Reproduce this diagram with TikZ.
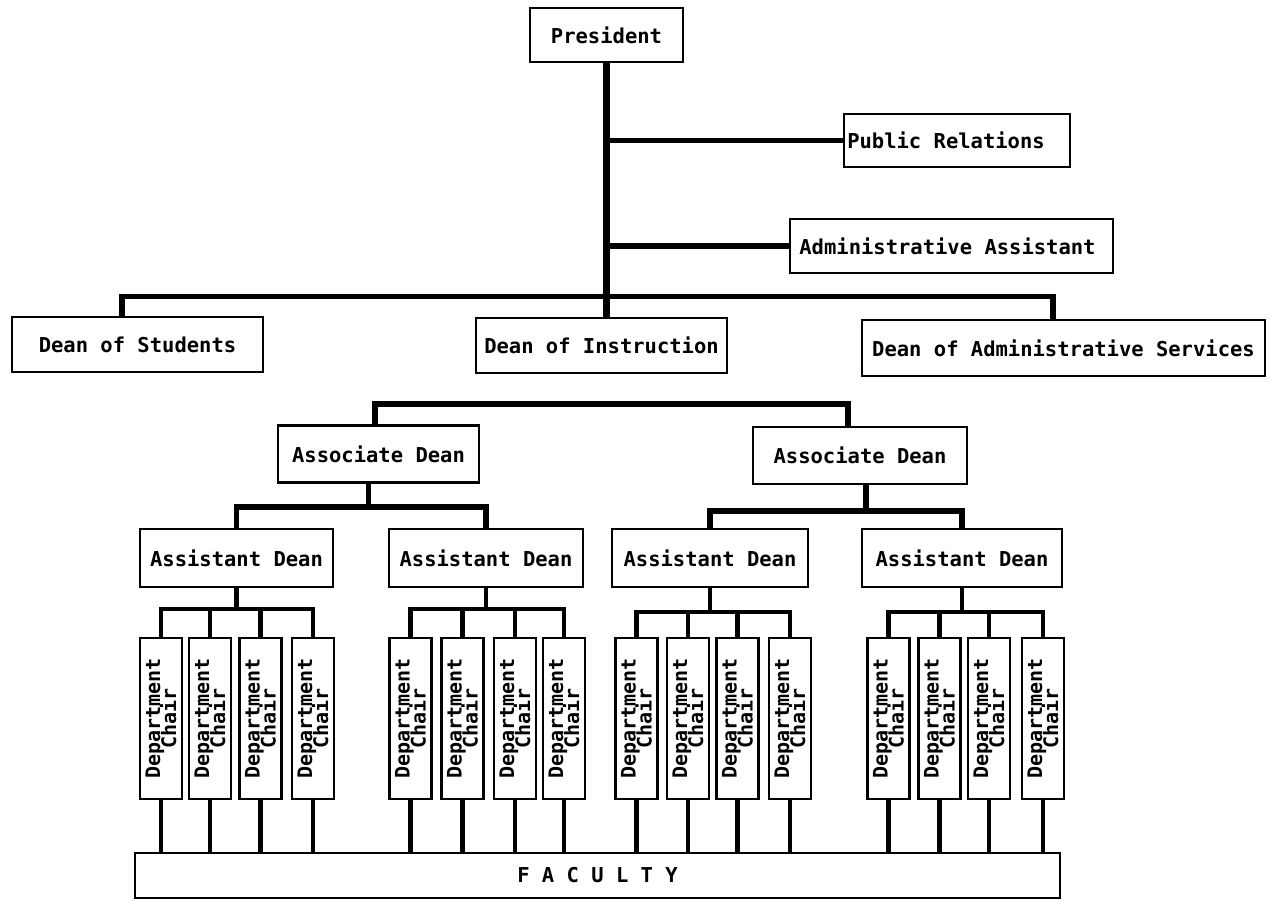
\documentclass[tikz,border=0pt]{standalone}
\usepackage{fontspec}
\newfontfamily\tw{DejaVu Sans Mono}
\newcommand\boxfont{\tw\bfseries\fontsize{20.5}{24}\selectfont}
\newcommand\chairfont{\tw\bfseries\fontsize{20}{16}\selectfont\lineskiplimit=-100pt\relax}
\begin{document}
\begin{tikzpicture}[x=1pt,y=-1pt,
  box/.style={draw, line width=2.5pt, rectangle, inner sep=0pt, font=\boxfont, align=center},
  chair/.style={box, rotate=90, minimum width=161pt, minimum height=42pt, font=\chairfont},
  link/.style={line width=5.5pt},
  clink/.style={line width=4.5pt}]
\useasboundingbox[fill=white] (0,0) rectangle (1271,901);
% top level
\node[box, minimum width=153pt, minimum height=54pt] (pres) at (606.5,35) {President};
\node[box, minimum width=226pt, minimum height=53pt] (pr) at (957,140.5) {Public Relations\hspace{22pt}};
\node[box, minimum width=323pt, minimum height=54pt] (aa) at (951.5,246) {Administrative Assistant\hspace{8pt}};
% deans
\node[box, minimum width=251pt, minimum height=55pt] (ds) at (137.5,344.5) {Dean of Students};
\node[box, minimum width=251pt, minimum height=55pt] (di) at (601.5,345.5) {Dean of Instruction};
\node[box, minimum width=403pt, minimum height=56pt] (das) at (1063.5,348) {Dean of Administrative Services};
% associate deans
\node[box, minimum width=201pt, minimum height=57pt] (as1) at (378.5,454) {Associate Dean};
\node[box, minimum width=214pt, minimum height=57pt] (as2) at (860,455.5) {Associate Dean};
% assistant deans
\node[box, minimum width=193pt, minimum height=58pt] (ad1) at (236.5,558) {Assistant Dean};
\node[box, minimum width=194pt, minimum height=58pt] (ad2) at (486,558) {Assistant Dean};
\node[box, minimum width=196pt, minimum height=58pt] (ad3) at (710,558) {Assistant Dean};
\node[box, minimum width=200pt, minimum height=58pt] (ad4) at (962,558) {Assistant Dean};
% department chairs
\foreach \x [count=\i] in {161,210,260.5,313,410.5,462.5,515,564,636.5,688,737.5,790,888.5,939.5,989,1043}
  \node[chair] (c\i) at (\x,718.5) {Department\\Chair};
% faculty
\node[box, minimum width=925pt, minimum height=45pt] (fac) at (597.5,875.5) {F A C U L T Y};
% connectors
\draw[link, line width=6.5pt] (pres.south) -- (pres.south |- di.north);
\draw[link] ([xshift=-15.5pt]ds.north) -- ++(0,-19.5) -| ([xshift=-10.5pt]das.north);
\draw[link] (pres.south |- pr.west) -- (pr.west);
\draw[link] (pres.south |- aa.west) -- (aa.west);
\draw[link] ([xshift=-3.5pt]as1.north) -- ++(0,-20.5) -| ([xshift=-12pt]as2.north);
\draw[link] (ad1.north) -- ++(0,-21) -| (ad2.north);
\draw[link] ([xshift=-10pt]as1.south) -- ++(0,26);
\draw[link] (ad3.north) -- ++(0,-17) -| (ad4.north);
\draw[link] ([xshift=6pt]as2.south) -- ++(0,28);
% chair bars
\draw[clink] (c1.east) -- ++(0,-28) -| (c4.east);
\draw[clink] (c2.east) -- ++(0,-28);
\draw[clink] (c3.east) -- ++(0,-28);
\draw[clink] (ad1.south) -- (ad1.south |- 0,610);
\draw[clink] (c5.east) -- ++(0,-28) -| (c8.east);
\draw[clink] (c6.east) -- ++(0,-28);
\draw[clink] (c7.east) -- ++(0,-28);
\draw[clink] (ad2.south) -- (ad2.south |- 0,610);
\draw[clink] (c9.east) -- ++(0,-25) -| (c12.east);
\draw[clink] (c10.east) -- ++(0,-25);
\draw[clink] (c11.east) -- ++(0,-25);
\draw[clink] (ad3.south) -- (ad3.south |- 0,613);
\draw[clink] (c13.east) -- ++(0,-25) -| (c16.east);
\draw[clink] (c14.east) -- ++(0,-25);
\draw[clink] (c15.east) -- ++(0,-25);
\draw[clink] (ad4.south) -- (ad4.south |- 0,613);
\foreach \i in {1,...,16}
  \draw[clink] (c\i.west) -- (c\i.west |- fac.north);
\end{tikzpicture}
\end{document}
